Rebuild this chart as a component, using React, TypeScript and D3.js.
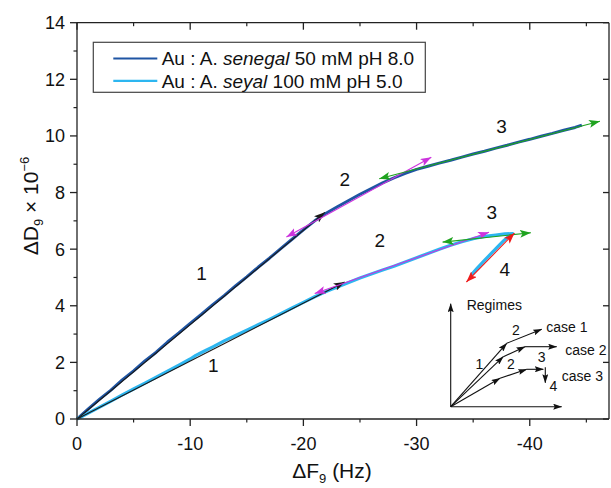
import React from "react";
import * as d3 from "d3";

// ---------- data ----------
const senegalF = [0,-1,-2,-3,-4,-5,-6,-7,-8,-9,-10,-11,-12,-13,-14,-15,-16,-17,-18,-19,-20,-21,-22,-23,-24,-25,-26,-27,-28,-29,-30,-31,-32,-33,-34,-35,-36,-37,-38,-39,-40,-41,-42,-43,-44,-44.6];
const senegalD = [0,0.36,0.70,1.02,1.38,1.70,2.05,2.36,2.72,3.04,3.38,3.70,4.04,4.36,4.70,5.02,5.36,5.68,6.02,6.35,6.68,7.0,7.27,7.5,7.72,7.94,8.14,8.34,8.52,8.68,8.82,8.93,9.04,9.14,9.25,9.36,9.46,9.57,9.67,9.78,9.88,9.99,10.09,10.2,10.3,10.38];

const seyalF = [0,-1,-2,-3,-4,-5,-6,-7,-8,-9,-10,-10.5,-11,-12,-13,-14,-15,-16,-17,-18,-19,-20,-21,-22,-23,-24,-25,-26,-27,-28,-29,-30,-31,-32,-33,-34,-35,-36,-37,-37.8,-38.5,-38.2,-37.7,-37.2,-36.6,-36.0,-35.4,-34.8];
const seyalD = [0,0.21,0.42,0.63,0.85,1.06,1.27,1.48,1.69,1.9,2.12,2.25,2.35,2.55,2.76,2.95,3.14,3.33,3.52,3.72,3.92,4.12,4.32,4.5,4.66,4.82,4.98,5.12,5.26,5.4,5.55,5.7,5.85,6.0,6.14,6.26,6.37,6.45,6.5,6.54,6.55,6.48,6.3,6.1,5.85,5.6,5.35,5.08];

// regime fit arrows: [F0, D0, F1, D1]
const fitLines = [
  { c: "#1a1a1a", p: [0, 0, -21.9, 7.3], both: false },
  { c: "#cc33dd", p: [-18.5, 6.43, -31.3, 9.25], both: true },
  { c: "#1fa31f", p: [-26.7, 8.49, -46.2, 10.52], both: true },
  { c: "#1a1a1a", p: [0, 0, -23.65, 4.84], both: false },
  { c: "#cc33dd", p: [-21.0, 4.43, -36.4, 6.6], both: true },
  { c: "#1fa31f", p: [-32.3, 6.25, -40.1, 6.58], both: true },
  { c: "#ee1c1c", p: [-38.65, 6.57, -34.4, 4.84], both: true },
];

const regimeLabels = [
  { t: "1", f: -11.0, d: 5.14 },
  { t: "2", f: -23.65, d: 8.45 },
  { t: "3", f: -37.5, d: 10.33 },
  { t: "1", f: -12.03, d: 1.9 },
  { t: "2", f: -26.75, d: 6.29 },
  { t: "3", f: -36.65, d: 7.31 },
  { t: "4", f: -37.8, d: 5.29 },
];

const xMajor = [0, -10, -20, -30, -40];
const xMinor = [-5, -15, -25, -35, -45];
const yMajor = [0, 2, 4, 6, 8, 10, 12, 14];
const yMinor = [1, 3, 5, 7, 9, 11, 13];

const legendItems = [
  { pre: "Au : A. ", it: "senegal", post: " 50 mM pH 8.0", c: "#1f55a3" },
  { pre: "Au : A. ", it: "seyal", post: " 100 mM pH 5.0", c: "#2db6f0" },
];

// inset schematic (local units)
const insetSegs = [
  [0, 0, 56, 63.4], [56, 63.4, 91, 77.4],
  [0, 0, 52.6, 50], [52.6, 50, 74.3, 60], [74.3, 60, 106, 60],
  [0, 0, 49.3, 28.4], [49.3, 28.4, 76, 37.4], [76, 37.4, 92.6, 37.4], [94.6, 39.4, 94.6, 24],
];
const insetAxes = [[0, 0, 0, 103], [0, 0, 111, 0]];
const insetTexts = [
  { t: "Regimes", x: 16, y: 101.5, a: "start" },
  { t: "case 1", x: 95.5, y: 79.5, a: "start" },
  { t: "case 2", x: 114.5, y: 56.5, a: "start" },
  { t: "case 3", x: 111, y: 31, a: "start" },
  { t: "1", x: 28.6, y: 42.5, a: "middle" },
  { t: "2", x: 65.3, y: 77.2, a: "middle" },
  { t: "2", x: 60.3, y: 43.2, a: "middle" },
  { t: "3", x: 91, y: 49.4, a: "middle" },
  { t: "4", x: 102.6, y: 20.5, a: "middle" },
];

export default function App() {
  const W = 611, H = 488;
  const x = d3.scaleLinear().domain([0, -47]).range([77, 609]);
  const y = d3.scaleLinear().domain([0, 14]).range([419, 22.7]);
  const ix = d3.scaleLinear().domain([0, 111]).range([450.7, 561.7]);
  const iy = d3.scaleLinear().domain([0, 103]).range([406.7, 303.7]);
  const line = d3.line<number>().curve(d3.curveLinear);

  const s1 = senegalF.map((f, i) => [x(f), y(senegalD[i])] as [number, number]);
  const s2 = seyalF.map((f, i) => [x(f), y(seyalD[i])] as [number, number]);

  const colors = Array.from(new Set(fitLines.map((l) => l.c)));
  const mid = (c: string) => "m" + c.replace("#", "");
  const font = "Arial, 'Liberation Sans', Helvetica, sans-serif";
  const ax = "#222";

  return (
    <svg width={W} height={H} style={{ position: "absolute", left: 0, top: 0, background: "#fff" }} fontFamily={font}>
      <defs>
        {colors.map((c) => (
          <marker key={c} id={mid(c)} markerUnits="userSpaceOnUse" markerWidth={12} markerHeight={8}
            refX={11} refY={4} orient="auto-start-reverse">
            <path d="M0,0 L11,4 L0,8 L2.5,4 Z" fill={c} />
          </marker>
        ))}
        <marker id="mins" markerUnits="userSpaceOnUse" markerWidth={9} markerHeight={6}
          refX={8.5} refY={3} orient="auto">
          <path d="M0,0 L9,3 L0,6 L1.5,3 Z" fill="#111" />
        </marker>
      </defs>

      {/* data */}
      <path d={line(s1) || ""} fill="none" stroke="#1f55a3" strokeWidth={3} strokeLinejoin="round" />
      <path d={line(s2) || ""} fill="none" stroke="#2db6f0" strokeWidth={3.2} strokeLinejoin="round" />

      {/* fit arrows */}
      {fitLines.map((l, i) => (
        <line key={i} x1={x(l.p[0])} y1={y(l.p[1])} x2={x(l.p[2])} y2={y(l.p[3])}
          stroke={l.c} strokeWidth={1.1}
          markerEnd={`url(#${mid(l.c)})`} markerStart={l.both ? `url(#${mid(l.c)})` : undefined} />
      ))}

      {regimeLabels.map((r, i) => (
        <text key={i} x={x(r.f)} y={y(r.d)} fontSize={19} textAnchor="middle" dominantBaseline="central" fill="#111">{r.t}</text>
      ))}

      {/* axes frame */}
      <line x1={77} y1={419} x2={609} y2={419} stroke={ax} strokeWidth={1.3} />
      <line x1={77} y1={22.7} x2={609} y2={22.7} stroke={ax} strokeWidth={1.3} />
      <line x1={77} y1={419} x2={77} y2={22.7} stroke={ax} strokeWidth={1.3} />
      <line x1={609} y1={419} x2={609} y2={22.7} stroke={ax} strokeWidth={1.3} />

      {xMajor.map((v) => (
        <g key={"xM" + v}>
          <line x1={x(v)} x2={x(v)} y1={419} y2={426} stroke={ax} strokeWidth={1.3} />
          <line x1={x(v)} x2={x(v)} y1={22.7} y2={29.7} stroke={ax} strokeWidth={1.3} />
          <text x={x(v)} y={449.5} fontSize={18} textAnchor="middle" fill="#111">{v}</text>
        </g>
      ))}
      {xMinor.map((v) => (
        <g key={"xm" + v}>
          <line x1={x(v)} x2={x(v)} y1={419} y2={422.5} stroke={ax} strokeWidth={1.2} />
          <line x1={x(v)} x2={x(v)} y1={22.7} y2={26.2} stroke={ax} strokeWidth={1.2} />
        </g>
      ))}
      {yMajor.map((v) => (
        <g key={"yM" + v}>
          <line x1={70} x2={77} y1={y(v)} y2={y(v)} stroke={ax} strokeWidth={1.3} />
          <line x1={603} x2={609} y1={y(v)} y2={y(v)} stroke={ax} strokeWidth={1.3} />
          <text x={65} y={y(v)} dy="0.36em" fontSize={18} textAnchor="end" fill="#111">{v}</text>
        </g>
      ))}
      {yMinor.map((v) => (
        <line key={"ym" + v} x1={73.5} x2={77} y1={y(v)} y2={y(v)} stroke={ax} strokeWidth={1.2} />
      ))}

      {/* axis titles */}
      <text x={332} y={478} fontSize={21} textAnchor="middle" fill="#111">
        ΔF<tspan fontSize={13} dy={5}>9</tspan><tspan dy={-5}> (Hz)</tspan>
      </text>
      <text transform="translate(38,206) rotate(-90)" fontSize={21} textAnchor="middle" fill="#111">
        ΔD<tspan fontSize={13} dy={5}>9</tspan><tspan dy={-5}> × 10</tspan><tspan fontSize={13} dy={-9}>−6</tspan>
      </text>

      {/* legend */}
      <rect x={93.3} y={42.3} width={332} height={50} fill="#fff" stroke="#444" strokeWidth={1.2} />
      {legendItems.map((it, i) => {
        const yy = 58.5 + i * 22.3;
        return (
          <g key={i}>
            <line x1={113.3} x2={157.3} y1={yy} y2={yy} stroke={it.c} strokeWidth={2.2} />
            <text x={161.7} y={yy} dy="0.36em" fontSize={19} fill="#111">
              {it.pre}<tspan fontStyle="italic">{it.it}</tspan>{it.post}
            </text>
          </g>
        );
      })}

      {/* inset */}
      {insetAxes.map((s, i) => (
        <line key={"ia" + i} x1={ix(s[0])} y1={iy(s[1])} x2={ix(s[2])} y2={iy(s[3])} stroke="#111" strokeWidth={1.1} markerEnd="url(#mins)" />
      ))}
      {insetSegs.map((s, i) => (
        <line key={"is" + i} x1={ix(s[0])} y1={iy(s[1])} x2={ix(s[2])} y2={iy(s[3])} stroke="#111" strokeWidth={1.1} markerEnd="url(#mins)" />
      ))}
      {insetTexts.map((t, i) => (
        <text key={"it" + i} x={ix(t.x)} y={iy(t.y)} dominantBaseline="central" textAnchor={t.a} fontSize={14} fill="#111">{t.t}</text>
      ))}
    </svg>
  );
}
